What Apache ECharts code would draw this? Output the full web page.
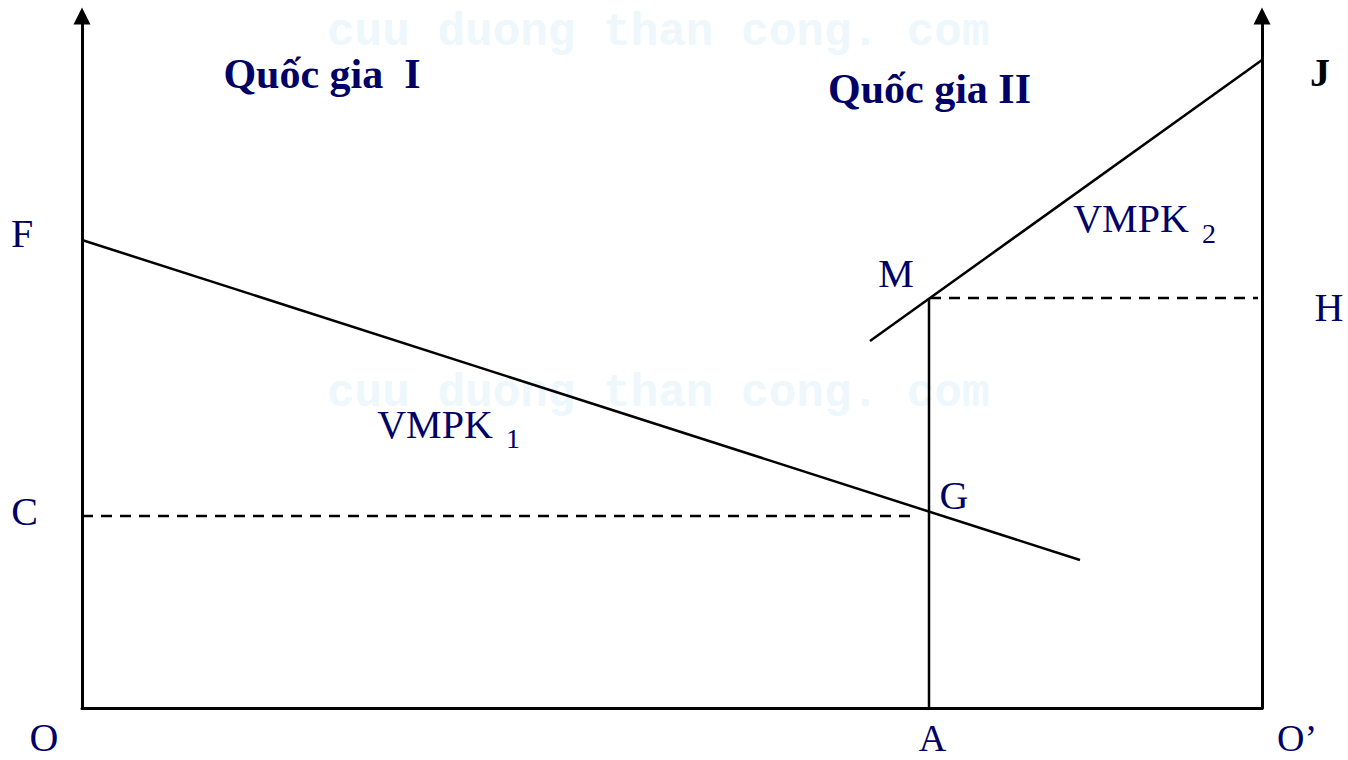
<!DOCTYPE html>
<html>
<head>
<meta charset="utf-8">
<title>Quốc gia I - Quốc gia II</title>
<script src="https://cdn.jsdelivr.net/npm/echarts@6/dist/echarts.min.js"></script>
<style>
  html, body { margin: 0; padding: 0; background: #fff; }
  #main { width: 1348px; height: 760px; }
</style>
</head>
<body>
<div id="main"></div>
<script>
// khoảng cách O -> O' và chiều cao trục (đơn vị tuỳ ý)
var xMax = 1180
var yMax = 692

// đường VMPK1 đi xuống từ F, VMPK2 đi lên tới J
var vmpk1 = [[0, 468], [998, 148]]
var vmpk2 = [[788, 367], [1180, 648]]
// đường đứng A-M, nét đứt C-G và M-H
var lineAM = [[847, 0], [847, 410]]
var dashC = [[0, 192], [829, 192]]
var dashH = [[848, 410], [1176, 410]]

// chữ trên hình và chỗ đặt (toạ độ theo trục)
var labelText = ['F', 'C', 'O', 'A', 'O’', 'G', 'M', 'H', 'J', 'VMPK', '1', 'VMPK', '2', 'Quốc gia  I', 'Quốc gia II']
var labelAt = [[-60, 475], [-57.5, 196.5], [-38, -29], [850.5, -29.5], [1215, -29.5], [872, 213], [814, 435],
  [1247, 401], [1238, 636], [353, 283.5], [431, 270], [1049, 489.5], [1127, 475], [240, 634.5], [847.5, 619]]
var labelKind = ['pt', 'pt', 'pt', 'low', 'low', 'pt', 'pt', 'pt', 'j', 'pt', 'sub', 'pt', 'sub', 'title', 'title']

var navy = '#000066'
var kindStyle = {
  pt: { fontSize: 40, fontWeight: 'normal', color: navy },
  low: { fontSize: 38, fontWeight: 'normal', color: navy },
  sub: { fontSize: 28, fontWeight: 'normal', color: navy },
  j: { fontSize: 40, fontWeight: 'bold', color: '#000' },
  title: { fontSize: 42, fontWeight: 'bold', color: navy }
}

var labelData = labelText.map(function (t, i) {
  var s = kindStyle[labelKind[i]]
  return {
    value: labelAt[i],
    label: {
      show: true,
      formatter: t,
      position: 'inside',
      fontFamily: 'Liberation Serif',
      fontSize: s.fontSize,
      lineHeight: Math.round(s.fontSize * 0.8),
      fontWeight: s.fontWeight,
      color: s.color,
      opacity: 1
    }
  }
})

function solid (data, w) {
  return {
    type: 'line',
    data: data,
    symbol: 'none',
    lineStyle: { color: '#000', width: w },
    silent: true
  }
}

function dashed (data) {
  return {
    type: 'line',
    data: data,
    symbol: 'none',
    lineStyle: { color: '#000', width: 2.5, type: [11, 8] },
    silent: true
  }
}

var axisLineStyle = { color: '#000', width: 3 }
var watermark = {
  text: 'cuu duong than cong. com',
  font: 'bold 46px "Liberation Mono"',
  fill: '#edf7fc',
  verticalAlign: 'middle'
}

var myChart = echarts.init(document.getElementById('main'), null, { renderer: 'svg' })
var option = {
  animation: false,
  backgroundColor: '#fff',
  grid: { left: 82, right: 86, top: 16, bottom: 52 },
  // chữ mờ ở nền
  graphic: [
    { type: 'text', x: 327, y: 33, z: -10, silent: true, style: watermark },
    { type: 'text', x: 327, y: 394, z: -10, silent: true, style: watermark }
  ],
  xAxis: {
    type: 'value',
    min: 0,
    max: xMax,
    axisLine: { show: true, onZero: false, lineStyle: axisLineStyle },
    axisTick: { show: false },
    axisLabel: { show: false },
    splitLine: { show: false }
  },
  yAxis: [
    {
      type: 'value',
      min: 0,
      max: yMax,
      position: 'left',
      axisLine: { show: true, onZero: false, symbol: ['none', 'triangle'], symbolSize: [17, 17], lineStyle: axisLineStyle },
      axisTick: { show: false },
      axisLabel: { show: false },
      splitLine: { show: false }
    },
    {
      type: 'value',
      min: 0,
      max: yMax,
      position: 'right',
      axisLine: { show: true, onZero: false, symbol: ['none', 'triangle'], symbolSize: [17, 17], lineStyle: axisLineStyle },
      axisTick: { show: false },
      axisLabel: { show: false },
      splitLine: { show: false }
    }
  ],
  series: [
    solid(vmpk1, 2.5),
    solid(vmpk2, 2.5),
    solid(lineAM, 2.5),
    dashed(dashC),
    dashed(dashH),
    {
      type: 'scatter',
      data: labelData,
      symbolSize: 0,
      itemStyle: { opacity: 1 },
      clip: false,
      silent: true,
      z: 5
    }
  ]
}
myChart.setOption(option)
</script>
</body>
</html>
